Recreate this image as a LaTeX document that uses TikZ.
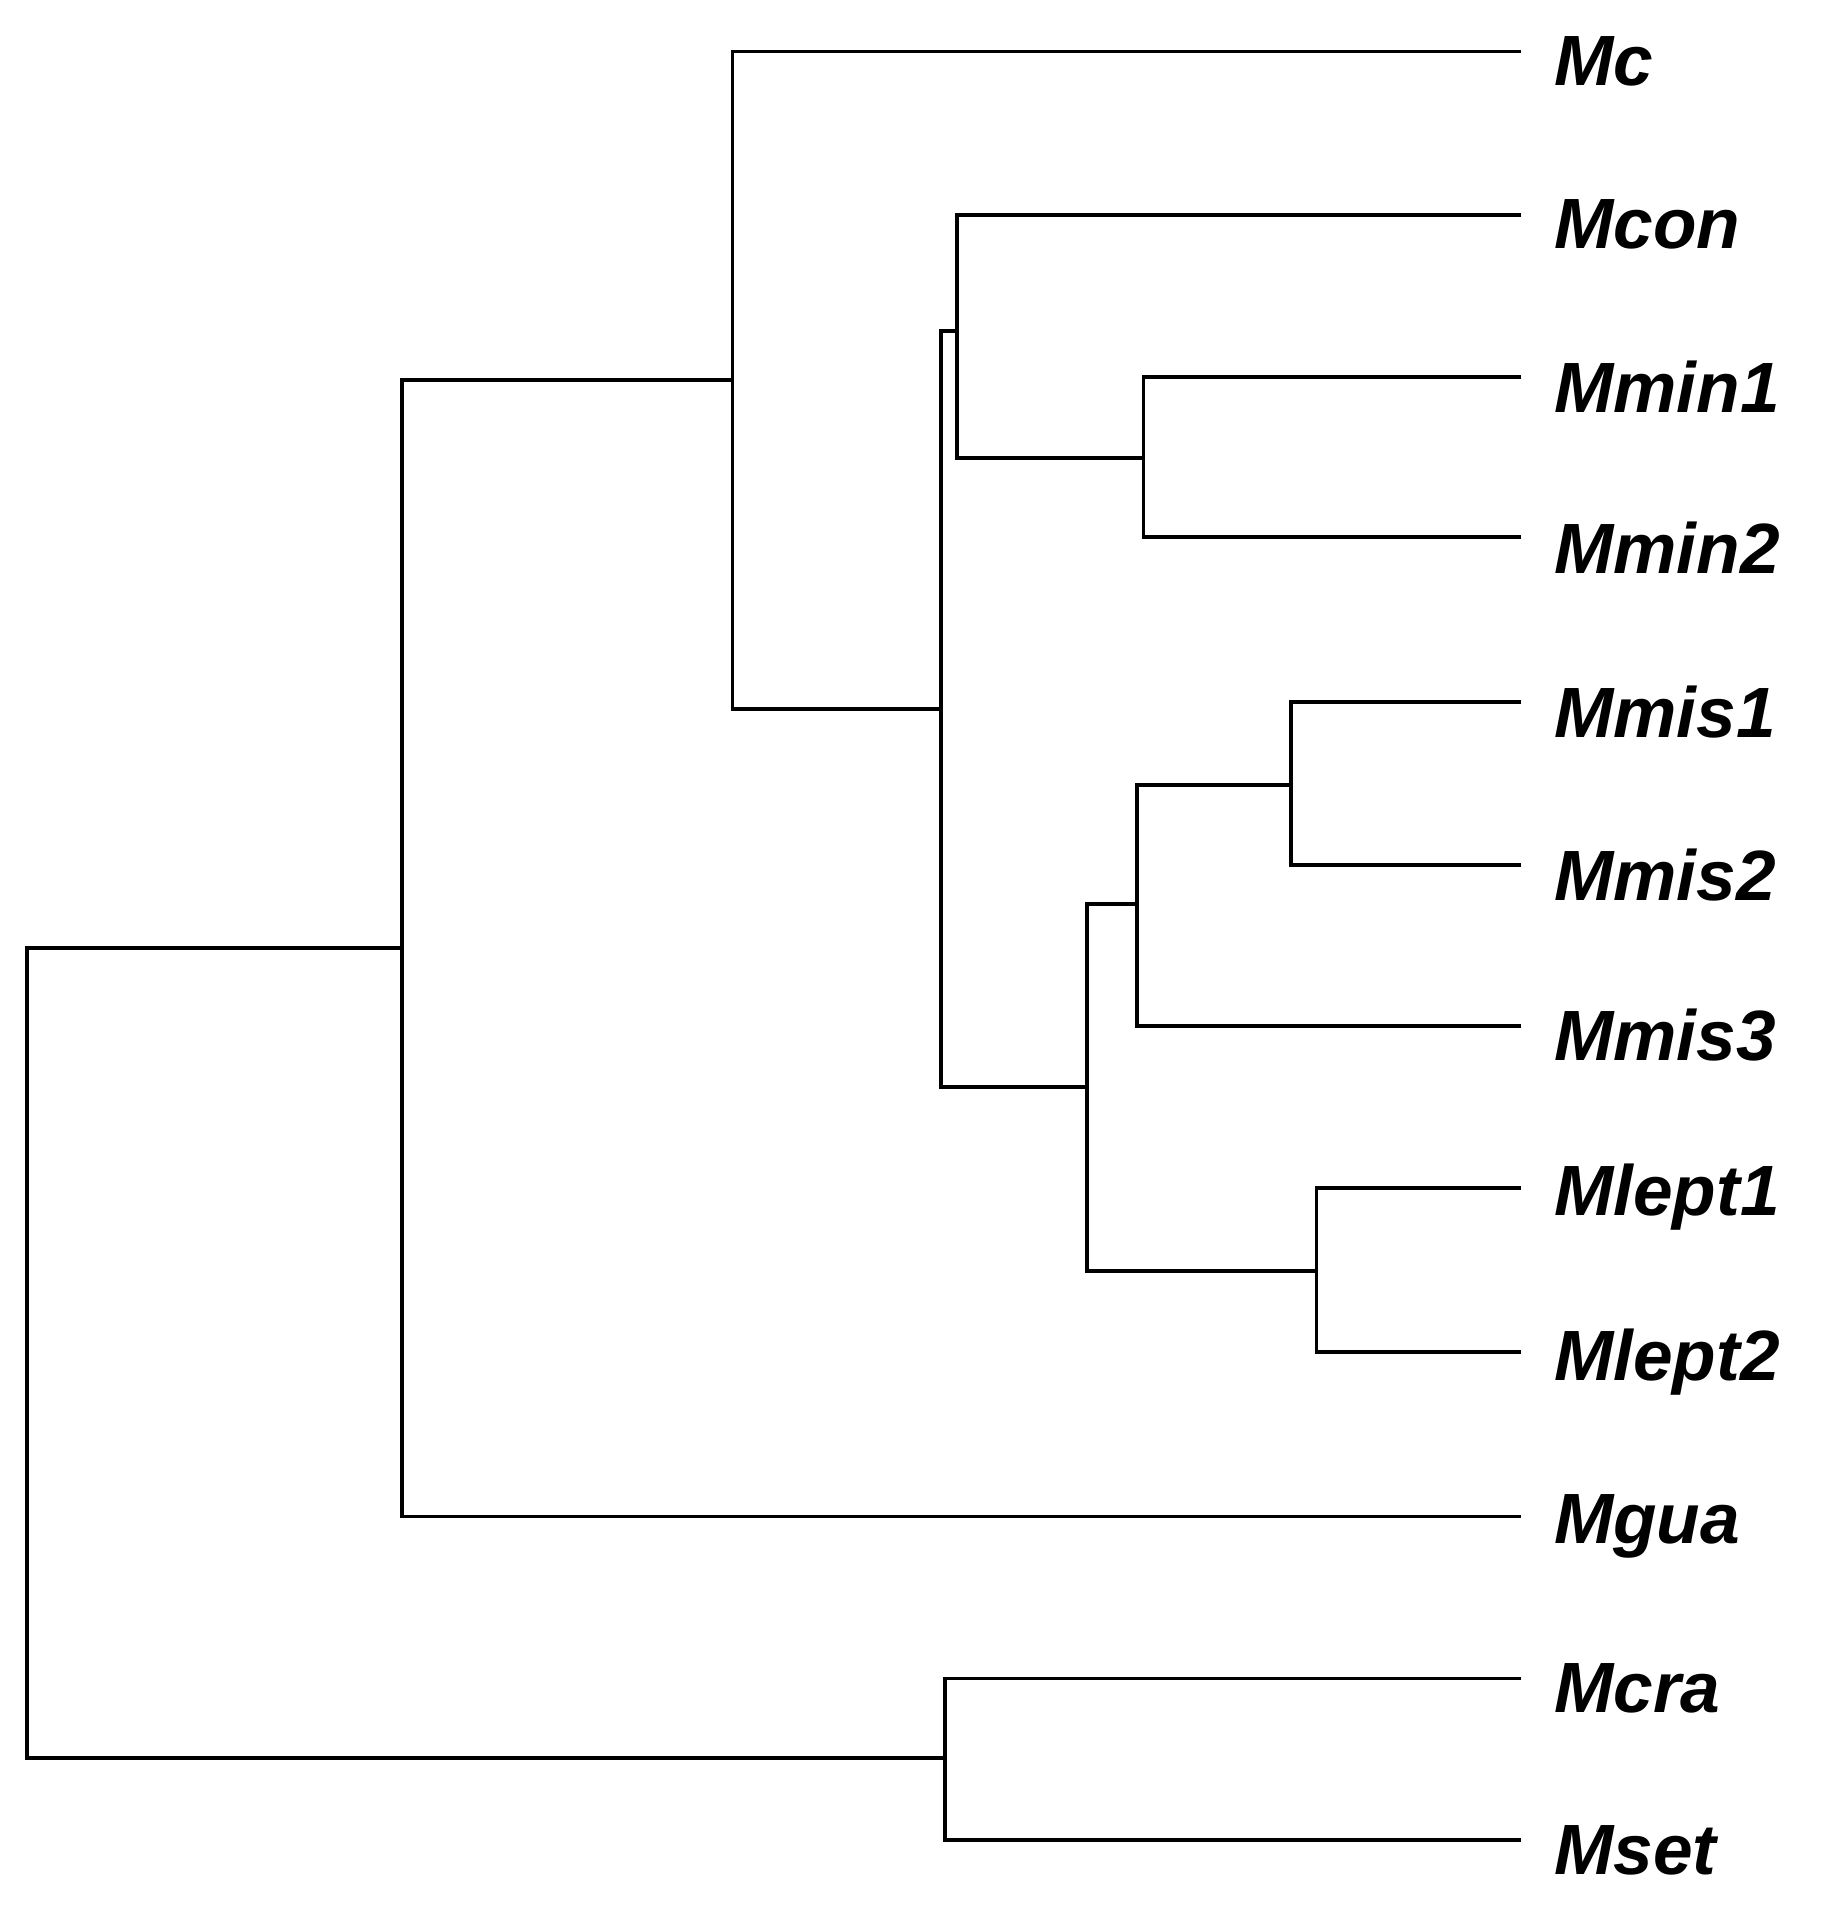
\documentclass[tikz,border=0pt]{standalone}
\usepackage{fontspec}
\setmainfont{Liberation Sans}
\begin{document}
\begin{tikzpicture}[x=0.01cm,y=-0.01cm,
  br/.style={line width=0.9pt,black},
  lab/.style={anchor=west,inner sep=0pt,font=\fontsize{16.5}{19}\selectfont\bfseries\itshape}]
\useasboundingbox (0,0) rectangle (1500,1560);
% leaves
\foreach \n/\t/\y in {mc/Mc/42, mcon/Mcon/175, mmin1/Mmin1/307, mmin2/Mmin2/438, mmis1/Mmis1/572, mmis2/Mmis2/705, mmis3/Mmis3/836, mlept1/Mlept1/968, mlept2/Mlept2/1102, mgua/Mgua/1236, mcra/Mcra/1368, mset/Mset/1500}{
  \coordinate (\n) at (1240,\y);
  \node[lab] (l\n) at (1266,\y+8) {\t};
}
% internal nodes (mid points)
\coordinate (root) at (22,773);
\coordinate (A) at (328,310);
\coordinate (B) at (770,1433);
\coordinate (C) at (597,578);
\coordinate (D) at (767,270);
\coordinate (E) at (780,373);
\coordinate (F) at (932,373);
\coordinate (G) at (886,886);
\coordinate (H) at (927,737);
\coordinate (I) at (1052,640);
\coordinate (J) at (1073,1036);
\draw[br] (A |- root) -- (root) -- (root |- B) -- (B);
\draw[br] (C |- A) -- (A) -- (A |- mgua) -- (mgua);
\draw[br] (mcra) -- (B |- mcra) -- (B |- mset) -- (mset);
\draw[br] (mc) -- (C |- mc) -- (C) -- (D |- C);
\draw[br] (E |- D) -- (D) -- (D |- G) -- (G);
\draw[br] (mcon) -- (E |- mcon) -- (E) -- (F);
\draw[br] (mmin1) -- (F |- mmin1) -- (F |- mmin2) -- (mmin2);
\draw[br] (H) -- (G |- H) -- (G |- J) -- (J);
\draw[br] (I) -- (H |- I) -- (H |- mmis3) -- (mmis3);
\draw[br] (mmis1) -- (I |- mmis1) -- (I |- mmis2) -- (mmis2);
\draw[br] (mlept1) -- (J |- mlept1) -- (J |- mlept2) -- (mlept2);
\end{tikzpicture}
\end{document}
